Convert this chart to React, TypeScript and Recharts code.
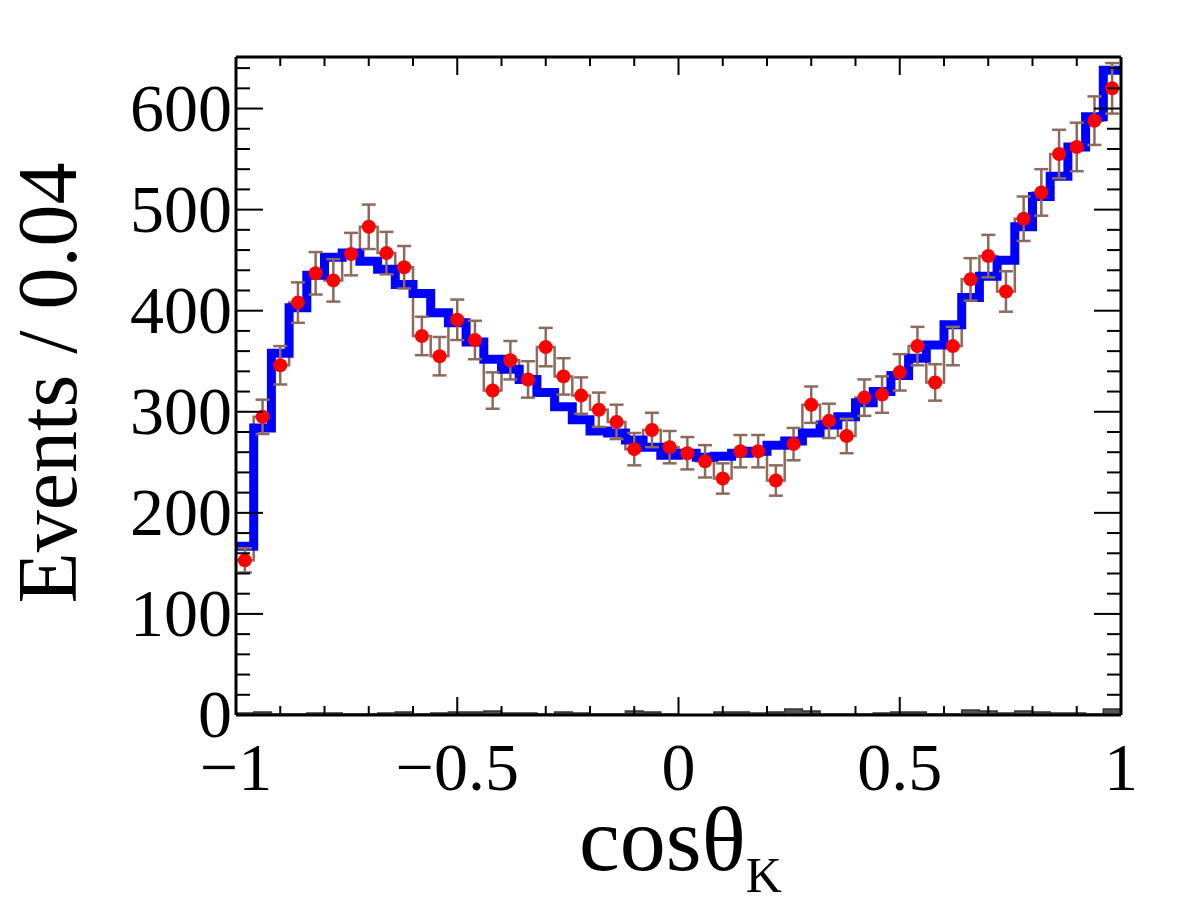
import { ComposedChart, Line, Area, Scatter, ErrorBar, XAxis, YAxis } from 'recharts'

const BIN_WIDTH = 0.04
const X_MIN = -1

const dataCounts = [
  153, 295, 346, 408, 437, 430, 456, 483, 457, 443,
  375, 355, 391, 371, 321, 351, 332, 364, 335, 316,
  302, 290, 263, 282, 265, 259, 251, 234, 261, 261,
  232, 268, 307, 291, 276, 314, 317, 339, 365, 329,
  365, 431, 454, 419, 491, 517, 555, 562, 588, 620,
]

const dataErrors = [
  12, 17, 19, 20, 21, 21, 21, 22, 21, 21,
  19, 19, 20, 19, 18, 19, 18, 19, 18, 18,
  17, 17, 16, 17, 16, 16, 16, 15, 16, 16,
  15, 16, 18, 17, 17, 18, 18, 18, 19, 18,
  19, 21, 21, 20, 22, 23, 24, 24, 24, 25,
]

const fitCounts = [
  167, 284, 358, 403, 435, 453, 457, 449, 441, 426,
  417, 398, 388, 369, 352, 342, 332, 319, 305, 292,
  281, 279, 272, 265, 257, 259, 255, 256, 259, 261,
  267, 271, 279, 287, 295, 309, 320, 336, 353, 366,
  386, 413, 434, 450, 483, 513, 533, 562, 592, 638,
]

const bkgCounts = [
  2, 3, 1, 1, 2, 2, 1, 1, 2, 3,
  1, 2, 3, 3, 4, 2, 2, 1, 3, 2,
  1, 1, 4, 3, 1, 0, 0, 3, 3, 2,
  3, 6, 4, 1, 1, 1, 2, 3, 3, 1,
  1, 5, 4, 2, 4, 3, 2, 2, 1, 6,
]

const xTicks = [-1, -0.9, -0.8, -0.7, -0.6, -0.5, -0.4, -0.3, -0.2, -0.1, 0, 0.1, 0.2, 0.3, 0.4, 0.5, 0.6, 0.7, 0.8, 0.9, 1]
const xLabels: Record<string, string> = { '-1': '\u22121', '-0.5': '\u22120.5', '0': '0', '0.5': '0.5', '1': '1' }
const yTicks = [0, 20, 40, 60, 80, 100, 120, 140, 160, 180, 200, 220, 240, 260, 280, 300, 320, 340, 360, 380, 400, 420, 440, 460, 480, 500, 520, 540, 560, 580, 600, 620, 640]

// step histograms: one row per bin edge (last edge repeats the last bin)
const edgeRows = fitCounts.map((_, i) => ({
  x: X_MIN + i * BIN_WIDTH,
  fit: fitCounts[i],
  data: dataCounts[i],
  bkg: bkgCounts[i],
}))
edgeRows.push({ x: 1, fit: fitCounts[49], data: dataCounts[49], bkg: bkgCounts[49] })

const pointRows = dataCounts.map((v, i) => ({
  x: X_MIN + (i + 0.5) * BIN_WIDTH,
  y: v,
  err: dataErrors[i],
}))

const FONT = '"Liberation Serif", "Times New Roman", serif'
const BROWN = '#8c6a5c'

const isMajorX = (v: number) => Math.abs(v * 2 - Math.round(v * 2)) < 1e-6

function BottomTick(props: any) {
  const { x, y, payload } = props
  const v = payload.value
  const major = isMajorX(v)
  const key = String(Math.round(v * 10) / 10)
  return (
    <g>
      <line x1={x} y1={y} x2={x} y2={y - (major ? 18 : 9)} stroke="#000" strokeWidth={2} />
      {major && (
        <text x={x} y={y + 75} textAnchor="middle" fontFamily={FONT} fontSize={68} fill="#000">
          {xLabels[key]}
        </text>
      )}
    </g>
  )
}

function TopTick(props: any) {
  const { x, y, payload } = props
  const major = isMajorX(payload.value)
  return <line x1={x} y1={y} x2={x} y2={y + (major ? 18 : 9)} stroke="#000" strokeWidth={2} />
}

function LeftTick(props: any) {
  const { x, y, payload } = props
  const major = payload.value % 100 === 0
  return (
    <g>
      <line x1={x} y1={y} x2={x + (major ? 27 : 14)} y2={y} stroke="#000" strokeWidth={2} />
      {major && (
        <text x={x - 4} y={y + 22} textAnchor="end" fontFamily={FONT} fontSize={68} fill="#000">
          {payload.value}
        </text>
      )}
    </g>
  )
}

function RightTick(props: any) {
  const { x, y, payload } = props
  const major = payload.value % 100 === 0
  return <line x1={x} y1={y} x2={x - (major ? 27 : 14)} y2={y} stroke="#000" strokeWidth={2} />
}

function Dot(props: any) {
  const { cx, cy } = props
  return <circle cx={cx} cy={cy} r={7} fill="#ff0000" />
}

export default function App() {
  return (
    <div style={{ width: 1166, height: 903, position: 'relative' }}>
      <ComposedChart
        width={1166}
        height={903}
        data={edgeRows}
        margin={{ top: 48, right: 52, bottom: 76, left: 0 }}
      >
        <XAxis
          dataKey="x"
          type="number"
          domain={[-1, 1]}
          ticks={xTicks}
          interval={0}
          allowDataOverflow
          height={120}
          tickSize={0}
          tickMargin={0}
          tickLine={false}
          axisLine={{ stroke: '#000', strokeWidth: 3 }}
          tick={<BottomTick />}
        />
        <XAxis
          xAxisId="top"
          orientation="top"
          dataKey="x"
          type="number"
          domain={[-1, 1]}
          ticks={xTicks}
          interval={0}
          allowDataOverflow
          height={1}
          tickSize={0}
          tickMargin={0}
          tickLine={false}
          axisLine={{ stroke: '#000', strokeWidth: 3 }}
          tick={<TopTick />}
        />
        <YAxis
          type="number"
          domain={[0, 651]}
          ticks={yTicks}
          interval={0}
          allowDataOverflow
          width={228}
          tickSize={0}
          tickMargin={0}
          tickLine={false}
          axisLine={{ stroke: '#000', strokeWidth: 3 }}
          tick={<LeftTick />}
        />
        <YAxis
          yAxisId="right"
          orientation="right"
          type="number"
          domain={[0, 651]}
          ticks={yTicks}
          interval={0}
          allowDataOverflow
          width={1}
          tickSize={0}
          tickMargin={0}
          tickLine={false}
          axisLine={{ stroke: '#000', strokeWidth: 3 }}
          tick={<RightTick />}
        />
        <Area
          type="stepAfter"
          dataKey="bkg"
          fill="#555555"
          fillOpacity={1}
          stroke="#333333"
          strokeWidth={1.5}
          isAnimationActive={false}
        />
        <Line
          type="stepAfter"
          dataKey="data"
          stroke={BROWN}
          strokeWidth={2.5}
          dot={false}
          isAnimationActive={false}
        />
        <Line
          type="stepAfter"
          dataKey="fit"
          stroke="#0000ff"
          strokeWidth={9}
          strokeLinejoin="miter"
          dot={false}
          isAnimationActive={false}
        />
        <Scatter data={pointRows} dataKey="y" shape={<Dot />} isAnimationActive={false}>
          <ErrorBar dataKey="err" direction="y" width={7} stroke={BROWN} strokeWidth={2.5} />
        </Scatter>
      </ComposedChart>
      <svg
        width={1166}
        height={903}
        style={{ position: 'absolute', left: 0, top: 0, pointerEvents: 'none' }}
      >
        <text
          transform="translate(68,375) rotate(-90)"
          textAnchor="middle"
          fontFamily={FONT}
          fontSize={84}
          fill="#000"
        >
          Events / 0.04
        </text>
        <text x={571} y={862} fontFamily={FONT} fontSize={92} fill="#000">
          cosθ
          <tspan dy={22} fontSize={50}>K</tspan>
        </text>
      </svg>
    </div>
  )
}
